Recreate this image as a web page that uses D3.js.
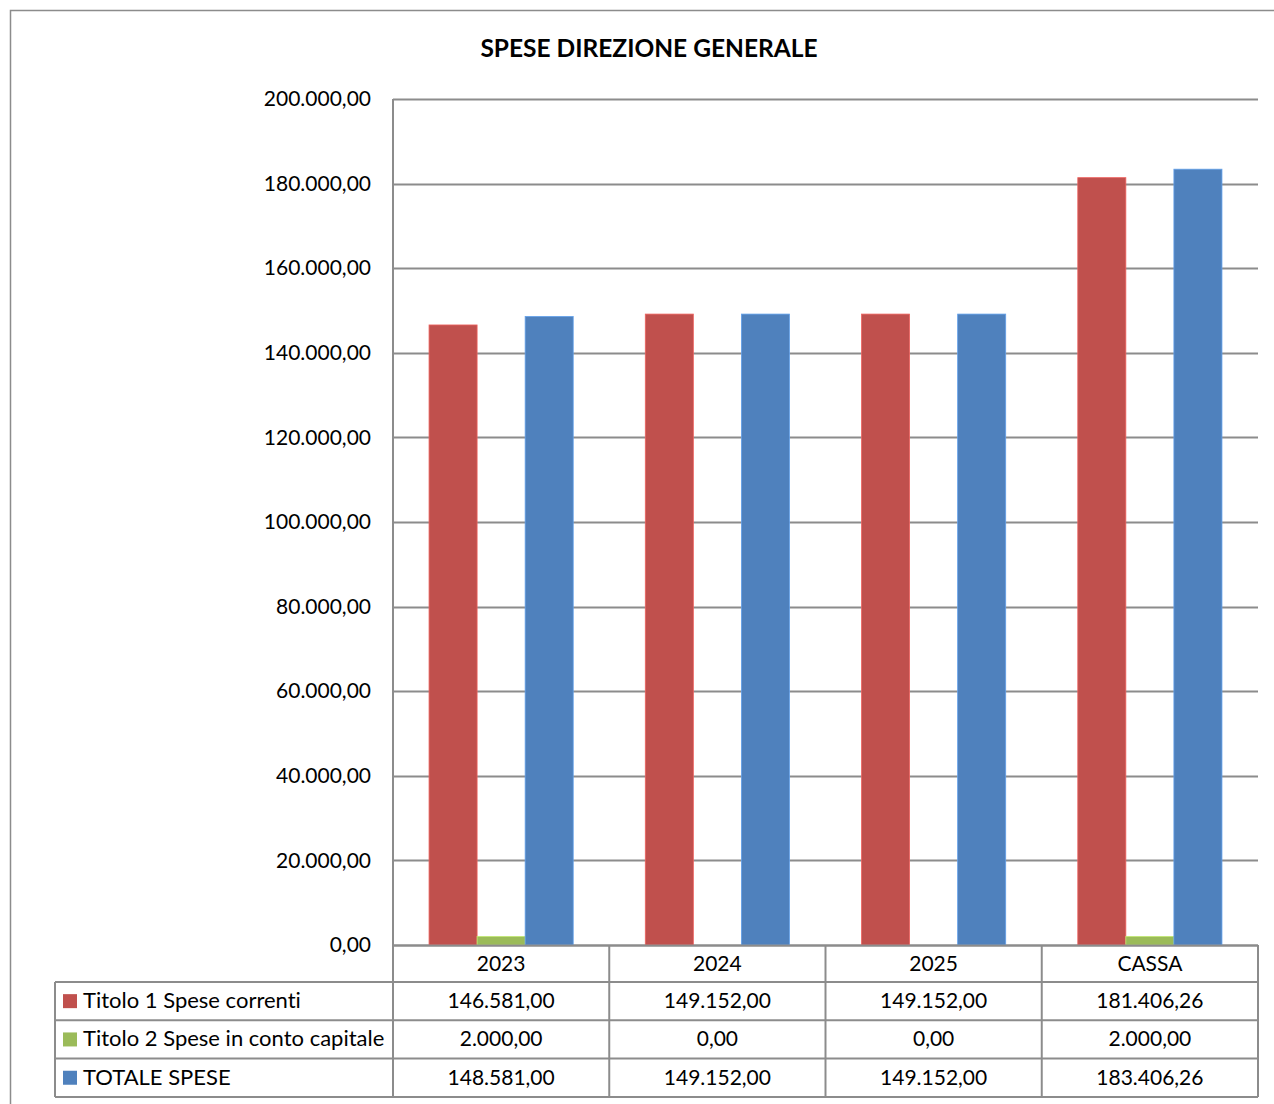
<!DOCTYPE html>
<html>
<head>
<meta charset="utf-8">
<script src="https://cdn.jsdelivr.net/npm/d3@7"></script>
<style>
  html, body { margin: 0; padding: 0; background: #fff; }
  svg { display: block; }
  text { font-family: Lato, "Open Sans", sans-serif; fill: #000; font-variant-ligatures: none; font-feature-settings: "liga" 0, "clig" 0; }
</style>
</head>
<body>
<svg id="chart" width="1274" height="1104"></svg>
<script>
const title = "SPESE DIREZIONE GENERALE";
const categories = ["2023", "2024", "2025", "CASSA"];
const seriesNames = ["Titolo 1 Spese correnti", "Titolo 2 Spese in conto capitale", "TOTALE SPESE"];
const titolo1 = [146581.00, 149152.00, 149152.00, 181406.26];
const titolo2 = [2000.00, 0.00, 0.00, 2000.00];
const totale = [148581.00, 149152.00, 149152.00, 183406.26];
const yTicks = [0, 20000, 40000, 60000, 80000, 100000, 120000, 140000, 160000, 180000, 200000];
const colors = ["#C0504D", "#9BBB59", "#4F81BD"];

const seriesValues = [titolo1, titolo2, totale];

const locale = d3.formatLocale({decimal: ",", thousands: ".", grouping: [3], currency: ["€", ""]});
const fmt = locale.format(",.2f");

const svg = d3.select("#chart");
const gridColor = "#8c8c8c";

// outer frame
svg.append("rect").attr("x", 10.5).attr("y", 10.5).attr("width", 1300).attr("height", 1200)
  .attr("fill", "none").attr("stroke", "#8c8c8c").attr("stroke-width", 1.5);

const plot = {left: 393, right: 1258, top: 99, bottom: 945};

const x = d3.scaleBand().domain(categories).range([plot.left, plot.right]).paddingInner(0).paddingOuter(0);
const xInner = d3.scaleBand().domain(d3.range(seriesNames.length)).range([0, x.bandwidth()]).paddingInner(0).paddingOuter(0.75);
const y = d3.scaleLinear().domain([0, 200000]).range([plot.bottom, plot.top]);

// title
svg.append("text").attr("x", 649).attr("y", 57).attr("text-anchor", "middle")
  .attr("font-weight", "bold").attr("font-size", 24.5).text(title);

// y tick labels
const yAxis = d3.axisLeft(y).tickValues(yTicks).tickSize(0).tickPadding(22).tickFormat(fmt);
const gAxis = svg.append("g").attr("transform", `translate(${plot.left},0)`).call(yAxis);
gAxis.select(".domain").remove();
gAxis.selectAll("text").attr("font-size", 21).attr("font-family", "Lato, sans-serif").attr("fill", "#000");

// gridlines
svg.append("g").selectAll("line").data(yTicks).join("line")
  .attr("x1", plot.left).attr("x2", plot.right)
  .attr("y1", d => Math.round(y(d)) + 0.5).attr("y2", d => Math.round(y(d)) + 0.5)
  .attr("stroke", gridColor).attr("stroke-width", 2);

// bars
const gBars = svg.append("g");
seriesValues.forEach((vals, si) => {
  gBars.selectAll(null).data(vals).join("rect")
    .attr("x", (d, i) => x(categories[i]) + xInner(si))
    .attr("width", xInner.bandwidth())
    .attr("y", d => y(d))
    .attr("height", d => y(0) - y(d))
    .attr("fill", colors[si])
    .attr("stroke", d => d > 0 ? d3.color(colors[si]).brighter(0.6) : "none")
    .attr("stroke-width", 0.8);
});

// baseline
svg.append("line").attr("x1", plot.left).attr("x2", plot.right)
  .attr("y1", y(0) + 0.5).attr("y2", y(0) + 0.5).attr("stroke", gridColor).attr("stroke-width", 2);

// vertical axis line
const tableBottom = 1097;
svg.append("line").attr("x1", plot.left).attr("x2", plot.left)
  .attr("y1", plot.top).attr("y2", tableBottom).attr("stroke", gridColor).attr("stroke-width", 2);

// data table
const headerH = 37;
const rowH = 38.3;
const tableLeft = 55;
const gT = svg.append("g");
const rowY = i => plot.bottom + headerH + i * rowH;

for (let i = 0; i <= seriesNames.length; i++) {
  gT.append("line").attr("x1", tableLeft).attr("x2", plot.right).attr("y1", rowY(i)).attr("y2", rowY(i))
    .attr("stroke", gridColor).attr("stroke-width", 2);
}
categories.forEach((c) => {
  const xr = x(c) + x.bandwidth();
  gT.append("line").attr("x1", xr).attr("x2", xr).attr("y1", plot.bottom).attr("y2", tableBottom)
    .attr("stroke", gridColor).attr("stroke-width", 2);
});
gT.append("line").attr("x1", tableLeft).attr("x2", tableLeft).attr("y1", rowY(0)).attr("y2", tableBottom)
  .attr("stroke", gridColor).attr("stroke-width", 2);

// header labels
gT.selectAll(null).data(categories).join("text")
  .attr("x", d => x(d) + x.bandwidth() / 2).attr("y", plot.bottom + headerH / 2 + 7)
  .attr("text-anchor", "middle").attr("font-size", 21).text(d => d);

// rows
seriesNames.forEach((name, si) => {
  const cy = rowY(si) + rowH / 2;
  gT.append("rect").attr("x", 63).attr("y", cy - 7).attr("width", 14).attr("height", 14).attr("fill", colors[si]);
  gT.append("text").attr("x", 83).attr("y", cy + 7).attr("font-size", 22).text(name);
  gT.selectAll(null).data(seriesValues[si]).join("text")
    .attr("x", (d, i) => x(categories[i]) + x.bandwidth() / 2).attr("y", cy + 7)
    .attr("text-anchor", "middle").attr("font-size", 21).text(d => fmt(d));
});
</script>
</body>
</html>
